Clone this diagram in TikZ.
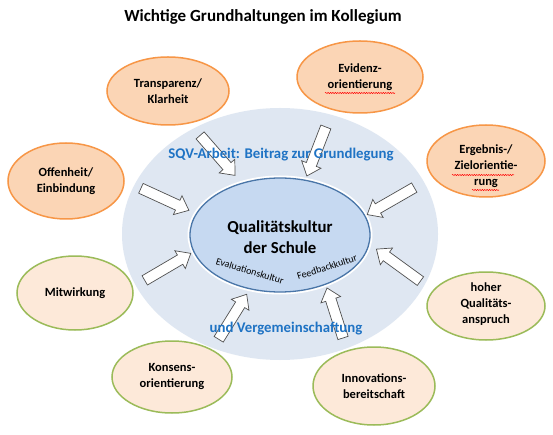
\documentclass[tikz,border=0pt]{standalone}
\usepackage{fontspec}
\setmainfont{Carlito}
\usetikzlibrary{shapes.geometric,shapes.arrows,calc,decorations.pathmorphing}
\definecolor{orfill}{HTML}{FBD5B5}
\definecolor{orline}{HTML}{F79646}
\definecolor{grfill}{HTML}{FDE9D9}
\definecolor{grline}{HTML}{9BBB59}
\definecolor{outerblue}{HTML}{DFE7F2}
\definecolor{innerblue}{HTML}{C6D9F1}
\definecolor{innerline}{HTML}{4A76A8}
\definecolor{sqvblue}{HTML}{1F73C4}
\definecolor{arrgray}{HTML}{505050}
\tikzset{
  lab/.style={font=\bfseries\fontsize{12.5}{16}\selectfont, align=center},
  orell/.style={ellipse, draw=orline, fill=orfill, line width=1.5pt, inner sep=0pt},
  grell/.style={ellipse, draw=grline, fill=grfill, line width=1.5pt, inner sep=0pt},
  barrow/.style={single arrow, draw=arrgray, fill=white, line width=0.7pt, inner sep=5pt,
    single arrow head extend=5pt, single arrow tip angle=80, single arrow head indent=0pt},
  spell/.style={draw=red, line width=0.5pt, decorate, decoration={snake, amplitude=0.6pt, segment length=2.4pt}},
  bluetext/.style={font=\bfseries\fontsize{14.8}{17}\selectfont, text=sqvblue}
}
\newcommand\blockarrow[3]{%
  \path let \p1=(#1), \p2=(#2), \n1={atan2(\y2-\y1,\x2-\x1)}, \n2={veclen(\x2-\x1,\y2-\y1)} in
    node[barrow, minimum height=\n2, rotate=\n1] (#3) at ($(#1)!0.5!(#2)$) {};}
\begin{document}
\begin{tikzpicture}[x=1pt,y=-1pt]
\useasboundingbox (0,0) rectangle (553,435);
\fill[white] (0,0) rectangle (553,435);
% title
\node[font=\bfseries\fontsize{17}{20}\selectfont] (title) at (263,17) {Wichtige Grundhaltungen im Kollegium};
% outer ellipse
\node[ellipse, fill=outerblue, minimum width=316pt, minimum height=252pt, inner sep=0pt] (outer) at (280,234) {};
% inner ellipse
\node[ellipse, draw=white, line width=5pt, minimum width=180pt, minimum height=114pt, inner sep=0pt] (ring) at (280,235) {};
\node[ellipse, draw=innerline, fill=innerblue, line width=1.3pt, minimum width=180pt, minimum height=114pt, inner sep=0pt] (inner) at (280,235) {};
\node[font=\bfseries\fontsize{16.8}{20.5}\selectfont, align=center] (qk) at (280,237) {Qualitätskultur\\der Schule};
\node[font=\fontsize{10}{12}\selectfont, rotate=-17] (eval) at (250,271) {Evaluationskultur};
\node[font=\fontsize{10}{12}\selectfont, rotate=18] (feed) at (327,267) {Feedbackkultur};
% outer ellipses
\node[orell, minimum width=122pt, minimum height=68pt] (transp) at (168,91) {};
\node[lab] at (transp) {Transparenz/\\Klarheit};
\node[orell, minimum width=116pt, minimum height=76pt] (offen) at (66,181) {};
\node[lab] at (offen) {Offenheit/\\Einbindung};
\node[orell, minimum width=126pt, minimum height=72pt] (evid) at (360,77) {};
\node[lab] at (evid) {Evidenz-\\orientierung};
\node[orell, minimum width=118pt, minimum height=72pt] (ergeb) at (486,161) {};
\node[lab] at (486,166) {Ergebnis-/\\Zielorientie-\\rung};
\node[grell, minimum width=116pt, minimum height=74pt] (mitw) at (75,293) {};
\node[lab] at (mitw) {Mitwirkung};
\node[grell, minimum width=120pt, minimum height=72pt] (kons) at (172,377) {};
\node[lab] at (kons) {Konsens-\\orientierung};
\node[grell, minimum width=118pt, minimum height=68pt] (hoher) at (486,306) {};
\node[lab] at (486,304) {hoher\\Qualitäts-\\anspruch};
\node[grell, minimum width=122pt, minimum height=78pt] (innov) at (374,386) {};
\node[lab] at (innov) {Innovations-\\bereitschaft};
% spell-check marks
\draw[spell] (325,93) -- (395,93);
\draw[spell] (452,175) -- (514,175);
\draw[spell] (472,190) -- (499,190);
% block arrows
\coordinate (t1) at (198,133); \coordinate (h1) at (233,173);
\coordinate (t2) at (138,187); \coordinate (h2) at (186,209);
\coordinate (t3) at (327,124); \coordinate (h3) at (308,173);
\coordinate (t4) at (417,186); \coordinate (h4) at (370,213);
\coordinate (t5) at (142,282); \coordinate (h5) at (188,255);
\coordinate (t6) at (217,342); \coordinate (h6) at (245,297);
\coordinate (t7) at (423,283); \coordinate (h7) at (379,251);
\coordinate (t8) at (344,341); \coordinate (h8) at (328,291);
\blockarrow{t1}{h1}{a1}
\blockarrow{t2}{h2}{a2}
\blockarrow{t3}{h3}{a3}
\blockarrow{t4}{h4}{a4}
\blockarrow{t5}{h5}{a5}
\blockarrow{t6}{h6}{a6}
\blockarrow{t7}{h7}{a7}
\blockarrow{t8}{h8}{a8}
% blue texts (on top of arrows)
\node[bluetext] (sqv) at (281,155) {SQV-Arbeit: Beitrag zur Grundlegung};
\node[bluetext] (verg) at (286,329) {und Vergemeinschaftung};
\end{tikzpicture}
\end{document}
